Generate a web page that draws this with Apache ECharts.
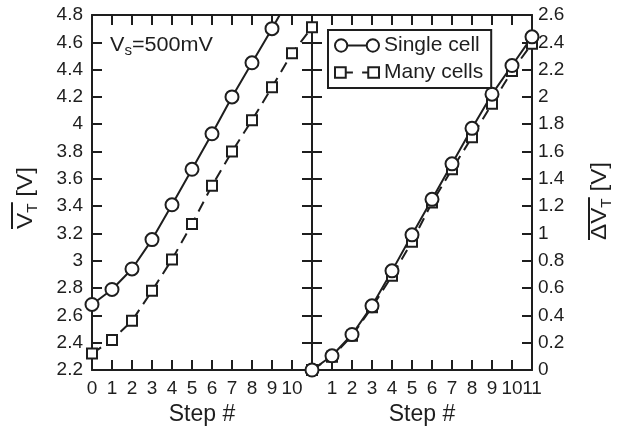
<!DOCTYPE html>
<html><head><meta charset="utf-8">
<script src="https://cdn.jsdelivr.net/npm/echarts@6/dist/echarts.min.js"></script>
<style>html,body{margin:0;padding:0;background:#fff}#c{width:626px;height:431px}</style>
</head><body><div id="c"></div>
<script>
// ---- data ----
const steps = [0,1,2,3,4,5,6,7,8,9,10,11];
const leftSingle = [2.68, 2.79, 2.94, 3.155, 3.41, 3.67, 3.93, 4.20, 4.45, 4.70, 4.96];
const leftMany   = [2.32, 2.42, 2.56, 2.78, 3.01, 3.27, 3.55, 3.80, 4.03, 4.27, 4.52, 4.71];
const rightSingle = [0, 0.104, 0.26, 0.47, 0.726, 0.99, 1.25, 1.51, 1.77, 2.02, 2.23, 2.44];
const rightMany   = [0, 0.097, 0.25, 0.46, 0.69, 0.94, 1.226, 1.47, 1.705, 1.95, 2.19, 2.39];
const leftYRange = [2.2, 4.8];
const rightYRange = [0, 2.6];
const yStep = 0.2;
const xRange = [0, 11];
const leftXLabels = ['0','1','2','3','4','5','6','7','8','9','10'];
const rightXLabels = ['1','2','3','4','5','6','7','8','9','10'];
const rightXLastLabel = ['11'];
const seriesNames = ['Single cell', 'Many cells'];
const xTitle = 'Step #';
const annotation = ['V', 's', '=500mV'];

const INK = '#1e1e1e';
const FONT = '"Liberation Sans", Arial, sans-serif';

const pairs = (ys) => ys.map((v, i) => [steps[i], v]);

function xAx(grid, pos, labels, name, bare) {
  return {
    type: 'value', gridIndex: grid, position: pos, min: xRange[0], max: xRange[1], interval: 1,
    name: name || '', nameLocation: 'middle', nameGap: 33,
    nameTextStyle: {fontSize: 23, color: INK, fontFamily: FONT},
    axisLine: {show: !bare, onZero: false, lineStyle: {color: INK, width: 2}},
    axisTick: {show: !bare, inside: true, length: 10, lineStyle: {color: INK, width: 2}},
    splitLine: {show: false},
    axisLabel: {show: !!labels, color: INK, fontSize: 19, fontFamily: FONT, margin: 9,
      showMinLabel: true, showMaxLabel: true, hideOverlap: false,
      formatter: v => (labels && labels.indexOf(String(v)) >= 0 ? String(v) : '')}
  };
}
function yAx(grid, pos, range, showLabel, margin) {
  return {
    type: 'value', gridIndex: grid, position: pos, min: range[0], max: range[1], interval: yStep,
    axisLine: {show: true, onZero: false, lineStyle: {color: INK, width: 2}},
    axisTick: {show: true, inside: true, length: 10, lineStyle: {color: INK, width: 2}},
    splitLine: {show: false},
    axisLabel: {show: showLabel, color: INK, fontSize: 19, fontFamily: FONT, margin: margin,
      showMinLabel: true, showMaxLabel: true,
      formatter: v => String(Math.round(v * 10) / 10)}
  };
}
const circleStyle = {symbol: 'circle', symbolSize: 13,
  itemStyle: {color: '#fff', borderColor: INK, borderWidth: 2},
  lineStyle: {color: INK, width: 2, type: 'solid'}};
const squareStyle = {symbol: 'rect', symbolSize: 10,
  itemStyle: {color: '#fff', borderColor: INK, borderWidth: 2},
  lineStyle: {color: INK, width: 2, type: [11, 7]}};

function lineSeries(name, xi, yi, data, st) {
  return Object.assign({type: 'line', name, xAxisIndex: xi, yAxisIndex: yi, data: pairs(data),
    clip: true, showSymbol: true, animation: false, emphasis: {disabled: true}}, st);
}

// text measurement for composite labels
const mctx = document.createElement('canvas').getContext('2d');
function tw(t, size) { mctx.font = size + 'px ' + FONT; return mctx.measureText(t).width; }
function composite(x, y, rot, sx, parts, overN, overY) {
  let cx = 0, overEnd = 0; const children = [];
  parts.forEach((p, i) => {
    children.push({type: 'text', x: cx, y: p.dy, style: {text: p.t, fontSize: p.s, fontFamily: FONT,
      fill: INK, align: 'left', verticalAlign: 'middle'}});
    cx += tw(p.t, p.s);
    if (i < overN) overEnd = cx;
  });
  if (overN > 0) children.push({type: 'line', shape: {x1: 0, y1: overY, x2: overEnd + 1, y2: overY},
    style: {stroke: INK, lineWidth: 2}});
  return {type: 'group', x, y, rotation: rot, scaleX: sx, children};
}

const chart = echarts.init(document.getElementById('c'), null, {renderer: 'canvas'});
chart.setOption({
  animation: false,
  backgroundColor: '#fff',
  grid: [
    {left: 92, top: 15, width: 220, height: 358},
    {left: 312, top: 15, width: 220, height: 358}
  ],
  xAxis: [
    xAx(0, 'bottom', leftXLabels, xTitle),
    xAx(0, 'top', null),
    xAx(1, 'bottom', rightXLabels, xTitle),
    xAx(1, 'top', null),
    xAx(1, 'bottom', rightXLastLabel, '', true)
  ],
  yAxis: [
    yAx(0, 'left', leftYRange, true, 9),
    yAx(0, 'right', leftYRange, false, 0),
    yAx(1, 'left', rightYRange, false, 0),
    yAx(1, 'right', rightYRange, true, 6)
  ],
  legend: {
    orient: 'vertical', left: 328, top: 30,
    borderColor: INK, borderWidth: 2, padding: [5, 8, 5, 6], itemGap: 6,
    itemWidth: 44, itemHeight: 13, itemTextGap: 6, selectedMode: false,
    symbolKeepAspect: true,
    textStyle: {fontSize: 21, color: INK, fontFamily: FONT},
    itemStyle: {color: '#fff', borderColor: INK, borderWidth: 2},
    data: [
      {name: seriesNames[0], icon: 'path://M0.5,6.5 A6,6 0 1,1 12.5,6.5 A6,6 0 1,1 0.5,6.5 Z M12.5,6.5 L31.5,6.5 M31.5,6.5 A6,6 0 1,1 43.5,6.5 A6,6 0 1,1 31.5,6.5 Z'},
      {name: seriesNames[1], icon: 'path://M0.5,0.5 H11 V11 H0.5 Z M11,5.75 H18 M27,5.75 H33 M33,0.5 H43.5 V11 H33 Z'}
    ]
  },
  series: [
    lineSeries(seriesNames[1], 0, 0, leftMany, squareStyle),
    lineSeries(seriesNames[0], 0, 0, leftSingle, circleStyle),
    lineSeries(seriesNames[1], 2, 2, rightMany, squareStyle),
    lineSeries(seriesNames[0], 2, 2, rightSingle, circleStyle)
  ],
  graphic: [
    composite(110, 45, 0, 1.08, [{t: annotation[0], s: 20, dy: 0}, {t: annotation[1], s: 14, dy: 6}, {t: annotation[2], s: 20, dy: 0}], 0, 0),
    composite(26, 229, Math.PI / 2, 1.1, [{t: 'V', s: 22, dy: 0}, {t: 'T', s: 14, dy: 7}, {t: ' [V]', s: 22, dy: 0}], 2, -14),
    composite(600, 240, Math.PI / 2, 1.1, [{t: '\u0394', s: 22, dy: 0}, {t: 'V', s: 22, dy: 0}, {t: 'T', s: 14, dy: 7}, {t: ' [V]', s: 22, dy: 0}], 3, -11)
  ]
});
</script></body></html>
